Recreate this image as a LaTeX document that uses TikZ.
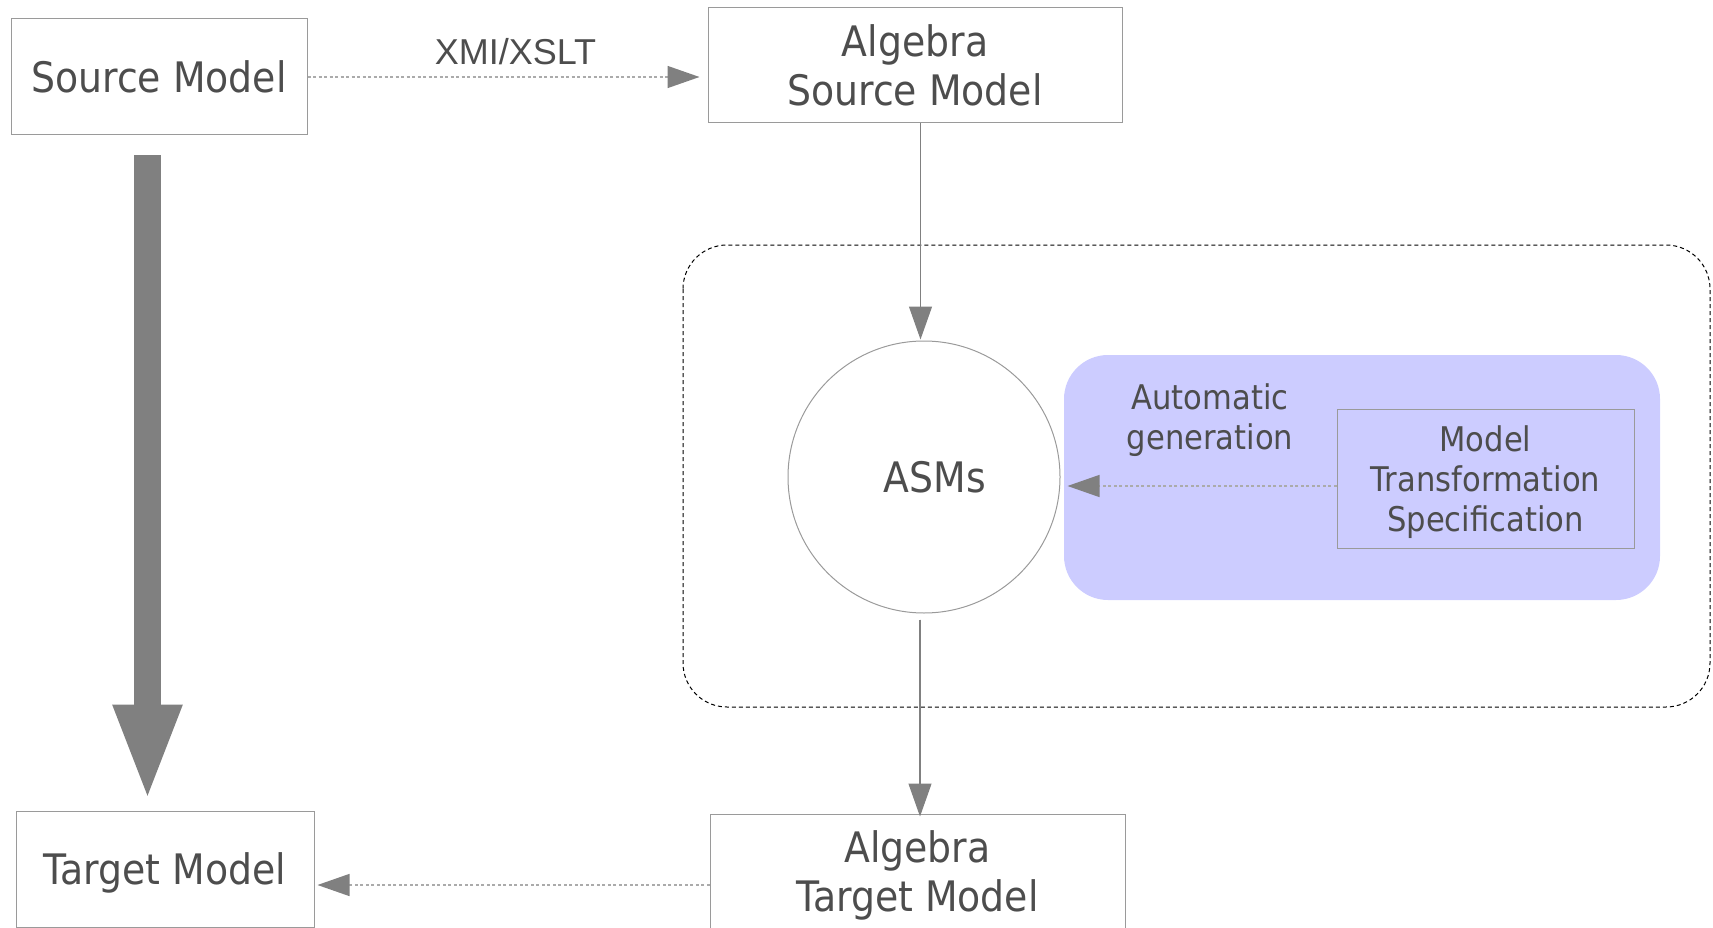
\documentclass[tikz,border=0pt]{standalone}
\usepackage{fontspec}
\setmainfont{DejaVu Sans}[FakeStretch=0.9]
\newfontfamily\arialf{Liberation Sans}
\usetikzlibrary{arrows.meta}
\definecolor{txt}{HTML}{4D4D4D}
\definecolor{bord}{HTML}{9A9A9A}
\definecolor{arr}{HTML}{808080}
\definecolor{dotc}{HTML}{ABABAB}
\definecolor{lblue}{HTML}{CCCCFF}
\newcommand\lowtext[2]{\raisebox{#1}[\height][\depth]{\begin{tabular}{@{}c@{}}#2\end{tabular}}}
\begin{document}
\begin{tikzpicture}[x=1pt,y=-1pt,
  box/.style={draw=bord,line width=1pt,rectangle,inner sep=0pt,align=center,text=txt,
    font=\fontsize{42}{49}\selectfont},
  smalltext/.style={inner sep=0pt,align=center,text=txt,font=\fontsize{34}{40}\selectfont},
  head/.style={-{Triangle[length=33pt,width=23pt]}},
  solidc/.style={draw=arr,line width=1.2pt,head,fill=arr},
  dotconn/.style={draw=dotc,line width=1.4pt,dash pattern=on 3pt off 2.5pt,
    -{Triangle[length=32pt,width=22pt,fill=arr,color=arr]}},
  container/.style={draw=black,line width=1pt,dash pattern=on 4pt off 3pt,rounded corners=44pt},
  bluebox/.style={fill=lblue,draw=none,rounded corners=44pt}
]
\useasboundingbox (0,0) rectangle (1713,928);

% containers
\draw[container] (683,245) rectangle (1710,707);
\fill[bluebox] (1064,355) rectangle (1660,600);

% nodes
\node[box,minimum width=296pt,minimum height=116pt] (src) at (159,77) {Source Model};
\node[box,minimum width=414pt,minimum height=115pt] (asrc) at (915,65.5) {Algebra\\Source Model};
\node[box,circle,minimum size=272pt] (asm) at (924,477) {\hskip22pt ASMs};
\node[box,fill=lblue,minimum width=297pt,minimum height=139pt,font=\fontsize{34}{40}\selectfont] (mts) at (1485.5,478.5) {\rule{0pt}{34pt}Model\\Transformation\\Specification};
\node[smalltext] (auto) at (1210,420) {Automatic\\generation};
\node[box,minimum width=415pt,minimum height=116pt] (atm) at (917.5,872) {\lowtext{-5.5pt}{Algebra\\Target Model}};
\node[box,minimum width=298pt,minimum height=116pt] (tgt) at (165,869) {\lowtext{-5.5pt}{Target Model}};

% connectors
\draw[dotconn,shorten >=8pt] (src.east) -- (src.east -| asrc.west)
  node[midway,above=11pt,xshift=8pt,inner sep=0pt,text=txt,font=\arialf\fontsize{36}{40}\selectfont] (xmi) {XMI/XSLT};
\draw[solidc,shorten >=1pt] ([xshift=-3.5pt]asrc.south -| asm.north) -- ([xshift=-3.5pt]asm.north);
\draw[solidc,shorten <=6pt,shorten >=-3pt] ([xshift=-4pt]asm.south) -- ([xshift=-4pt]asm.south |- atm.north);
\draw[dotconn,shorten >=7pt] ([yshift=-7.5pt]mts.west) -- ([yshift=-7.5pt]mts.west -| asm.east);
\draw[dotconn,shorten >=3pt] ([yshift=-13pt]atm.west) -- ([yshift=-13pt]atm.west -| tgt.east);

% big arrow
\draw[draw=arr,line width=27pt,-{Triangle[length=98pt,width=62pt]}]
  ([xshift=-11.5pt,yshift=-20pt]src.south) -- ([xshift=-17.5pt,yshift=8pt]tgt.north);
\end{tikzpicture}
\end{document}
